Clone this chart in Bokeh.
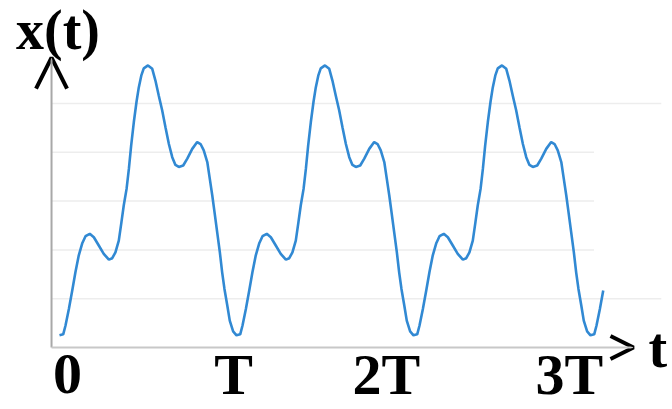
from bokeh.plotting import figure
from bokeh.models import Range1d, Arrow, OpenHead
from bokeh.core.properties import value
from bokeh.embed import file_html
from bokeh.resources import INLINE

# ---- data (t in units of the period T, amplitude in grid units) ----
PERIODS = [0, 1, 2]
END_PHASE = 0.072           # the drawn signal stops a little after 3T
PHASE = [0.000, 0.021, 0.034, 0.053, 0.072, 0.090, 0.109, 0.128, 0.147, 0.171,
         0.194, 0.222, 0.250, 0.279, 0.298, 0.316, 0.335, 0.350, 0.363, 0.379,
         0.392, 0.405, 0.420, 0.435, 0.448, 0.462, 0.476, 0.500, 0.524, 0.542,
         0.561, 0.580, 0.599, 0.618, 0.637, 0.655, 0.674, 0.699, 0.722, 0.750,
         0.778, 0.797, 0.815, 0.835, 0.849, 0.863, 0.876, 0.891, 0.906, 0.919,
         0.932, 0.948, 0.962, 0.981]
VALUE = [0.25, 0.27, 0.45, 0.79, 1.17, 1.54, 1.89, 2.13, 2.28, 2.33,
         2.26, 2.09, 1.92, 1.80, 1.83, 1.95, 2.19, 2.57, 2.91, 3.25,
         3.66, 4.14, 4.62, 5.03, 5.33, 5.57, 5.72, 5.78, 5.71, 5.47,
         5.16, 4.86, 4.51, 4.17, 3.90, 3.74, 3.70, 3.73, 3.87, 4.07,
         4.21, 4.17, 4.04, 3.80, 3.46, 3.12, 2.77, 2.36, 1.95, 1.54,
         1.20, 0.86, 0.55, 0.33]
GRID_LEVELS = [1, 2, 3, 4, 5]
GRID_ENDS = [3.40, 3.02, 3.02, 3.02, 3.40]
TICK_LABELS = ["0", "T", "2T", "3T"]
TICK_POS = [0.045, 0.983, 1.847, 2.881]

# build the periodic signal from the one period
ts, vs = [], []
for k in PERIODS + [3]:
    for ph, v in zip(PHASE, VALUE):
        if k == 3 and ph > END_PHASE:
            break
        ts.append(k + ph)
        vs.append(v)

AXIS_T = -0.045      # position of the vertical axis
Y_TOP = 5.94
X_END = 3.243

p = figure(width=672, height=409, output_backend="svg", toolbar_location=None,
           x_range=Range1d(-0.3333, 3.4633), y_range=Range1d(-1.2705, 7.1107),
           min_border=0, min_border_left=0, min_border_right=0,
           min_border_top=0, min_border_bottom=0)
p.axis.visible = False
p.xgrid.visible = False
p.ygrid.visible = False
p.outline_line_color = None
p.background_fill_color = "white"

# faint horizontal gridlines
p.segment(x0=[AXIS_T] * len(GRID_LEVELS), y0=GRID_LEVELS,
          x1=GRID_ENDS, y1=GRID_LEVELS,
          line_color="#ededed", line_width=1.5)

# axes with arrow heads
p.add_layout(Arrow(x_start=AXIS_T, y_start=0, x_end=AXIS_T, y_end=Y_TOP,
                   line_color="#a8a8a8", line_width=2,
                   end=OpenHead(size=31, line_color="black", line_width=4)))
p.add_layout(Arrow(x_start=AXIS_T, y_start=0, x_end=X_END, y_end=0,
                   line_color="#c8c8c8", line_width=2,
                   end=OpenHead(size=23, line_color="black", line_width=4)))

# signal
p.line(ts, vs, line_color="#3189d3", line_width=2.6)

serif = value("Liberation Serif")
p.text(x=TICK_POS, y=[-0.553] * len(TICK_POS), text=TICK_LABELS,
       text_font=serif, text_font_style="bold", text_font_size="58px",
       text_align="center", text_baseline="middle", text_color="black")
p.text(x=[-0.0085], y=[6.496], text=["x(t)"],
       text_font=serif, text_font_style="bold", text_font_size="56px",
       text_align="center", text_baseline="middle", text_color="black")
p.text(x=[3.328], y=[-0.02], text=["t"],
       text_font=serif, text_font_style="bold", text_font_size="56px",
       text_align="left", text_baseline="middle", text_color="black")

open("out.html", "w").write(file_html(p, INLINE))
